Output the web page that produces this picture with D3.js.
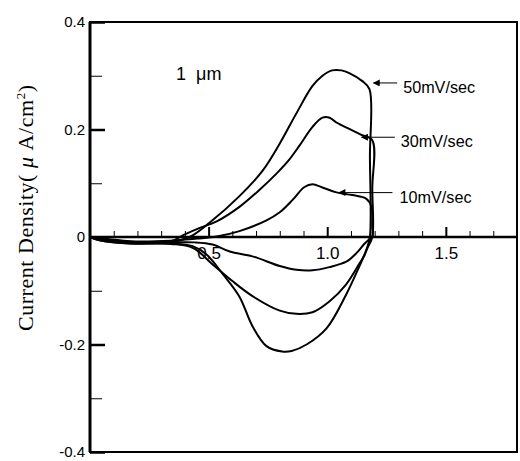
<!DOCTYPE html>
<html>
<head>
<meta charset="utf-8">
<script src="https://cdn.jsdelivr.net/npm/d3@7"></script>
<style>
  body { margin: 0; background: #fff; }
  svg { display: block; }
</style>
</head>
<body>
<svg width="520" height="461"></svg>
<script>
// scan rates and their cyclic voltammograms (potential V, current density uA/cm2)
var rates = ["50mV/sec", "30mV/sec", "10mV/sec"];

var v50 = [0, 0.08, 0.17, 0.34, 0.42, 0.505, 0.63, 0.727, 0.80, 0.87, 0.938, 0.98, 1.02, 1.06, 1.093, 1.148, 1.178, 1.18, 1.18,
	1.168, 1.15, 1.135, 1.08, 0.997, 0.913, 0.85, 0.81, 0.744, 0.685, 0.63, 0.56, 0.49, 0.433, 0.34, 0.17, 0.04, 0];
var i50 = [0, -0.006, -0.01, -0.009, 0, 0.027, 0.076, 0.123, 0.174, 0.23, 0.281, 0.3, 0.31, 0.31, 0.305, 0.29, 0.275, 0.15, 0.0,
	-0.02, -0.04, -0.055, -0.107, -0.17, -0.2, -0.212, -0.213, -0.203, -0.166, -0.111, -0.069, -0.032, -0.017, -0.012, -0.012, -0.006, 0];

var v30 = [0, 0.08, 0.17, 0.34, 0.4, 0.463, 0.534, 0.63, 0.715, 0.786, 0.84, 0.883, 0.938, 0.98, 1.01, 1.039, 1.093, 1.144, 1.19, 1.19, 1.19,
	1.17, 1.156, 1.135, 1.08, 1.009, 0.938, 0.87, 0.80, 0.685, 0.6, 0.517, 0.433, 0.34, 0.17, 0.04, 0];
var i30 = [0, -0.005, -0.009, -0.008, 0.005, 0.017, 0.029, 0.056, 0.088, 0.118, 0.144, 0.17, 0.205, 0.222, 0.222, 0.213, 0.201, 0.19, 0.18, 0.09, 0.0,
	-0.02, -0.035, -0.05, -0.088, -0.12, -0.14, -0.143, -0.137, -0.11, -0.082, -0.051, -0.02, -0.013, -0.012, -0.006, 0];

var v10 = [0, 0.08, 0.17, 0.34, 0.45, 0.534, 0.63, 0.744, 0.8, 0.854, 0.904, 0.938, 0.98, 1.039, 1.106, 1.165, 1.186, 1.19, 1.19,
	1.175, 1.156, 1.123, 1.08, 1.009, 0.938, 0.87, 0.8, 0.685, 0.589, 0.517, 0.44, 0.34, 0.17, 0.04, 0];
var i10 = [0, -0.004, -0.008, -0.007, -0.003, 0.001, 0.011, 0.031, 0.046, 0.069, 0.093, 0.098, 0.092, 0.083, 0.078, 0.071, 0.057, 0.02, 0.0,
	-0.005, -0.013, -0.03, -0.046, -0.056, -0.062, -0.061, -0.054, -0.036, -0.027, -0.014, -0.01, -0.01, -0.01, -0.005, 0];

var xMajor = [0.5, 1.0, 1.5];
var xMinor = [0.1, 0.2, 0.3, 0.4, 0.6, 0.7, 0.8, 0.9, 1.1, 1.2, 1.3, 1.4, 1.6, 1.7];
var yMajor = [-0.4, -0.2, 0, 0.2, 0.4];
var yMinor = [-0.3, -0.1, 0.1, 0.3];

// arrow label positions in data units: [text x, text baseline y, arrow start x, arrow tip x]
var labelAt = [[1.32, 0.268, 1.295, 1.195], [1.31, 0.167, 1.285, 1.145], [1.305, 0.064, 1.275, 1.05]];

var svg = d3.select("svg");
var mLeft = 90, mRight = 517, mTop = 22, mBottom = 452;

var x = d3.scaleLinear().domain([0, 1.8]).range([mLeft, mRight]);
var y = d3.scaleLinear().domain([-0.4, 0.4]).range([mBottom, mTop]);

var font = "'Liberation Sans', Arial, sans-serif";

// frame
svg.append("rect")
	.attr("x", mLeft).attr("y", mTop)
	.attr("width", mRight - mLeft).attr("height", mBottom - mTop)
	.attr("fill", "none")
	.attr("stroke", "#000")
	.attr("stroke-width", 2);

svg.append("line")
	.attr("x1", mLeft).attr("x2", mLeft)
	.attr("y1", mTop).attr("y2", mBottom)
	.attr("stroke", "#000").attr("stroke-width", 3);

// y axis, ticks pointing inward
var yAxis = svg.append("g")
	.attr("transform", "translate(" + mLeft + ",0)")
	.call(d3.axisLeft(y).tickValues(yMajor).tickSizeInner(-15).tickSizeOuter(0).tickPadding(5)
		.tickFormat(function(d) { return d === 0 ? "0" : d.toFixed(1); }));
yAxis.select(".domain").remove();
yAxis.selectAll("line").attr("stroke-width", 2.5);
yAxis.selectAll("text").style("font-family", font).style("font-size", "15px").attr("fill", "#000");

var yAxisMinor = svg.append("g")
	.attr("transform", "translate(" + mLeft + ",0)")
	.call(d3.axisLeft(y).tickValues(yMinor).tickSizeInner(-12).tickSizeOuter(0).tickFormat(""));
yAxisMinor.select(".domain").remove();
yAxisMinor.selectAll("line").attr("stroke-width", 1);

// zero line with x ticks
svg.append("line")
	.attr("x1", mLeft).attr("x2", mRight)
	.attr("y1", y(0)).attr("y2", y(0))
	.attr("stroke", "#000").attr("stroke-width", 2.5);

var xAxis = svg.append("g")
	.attr("transform", "translate(0," + y(0) + ")")
	.call(d3.axisBottom(x).tickValues(xMajor).tickSizeInner(-10).tickSizeOuter(0).tickPadding(10)
		.tickFormat(function(d) { return d.toFixed(1); }));
xAxis.select(".domain").remove();
xAxis.selectAll("line").attr("stroke-width", 2);
xAxis.selectAll("text").style("font-family", font).style("font-size", "17px").attr("fill", "#000");

var xAxisMinor = svg.append("g")
	.attr("transform", "translate(0," + y(0) + ")")
	.call(d3.axisBottom(x).tickValues(xMinor).tickSizeInner(-6).tickSizeOuter(0).tickFormat(""));
xAxisMinor.select(".domain").remove();
xAxisMinor.selectAll("line").attr("stroke-width", 1);

// curves
var line = d3.line()
	.x(function(d) { return x(d[0]); })
	.y(function(d) { return y(d[1]); })
	.curve(d3.curveCatmullRom.alpha(0.5));

var series = [d3.zip(v50, i50), d3.zip(v30, i30), d3.zip(v10, i10)];

svg.selectAll("path.cv")
	.data(series)
	.enter()
	.append("path")
	.attr("class", "cv")
	.attr("d", line)
	.attr("fill", "none")
	.attr("stroke", "#000")
	.attr("stroke-width", 2)
	.attr("stroke-linejoin", "round");

// arrows and rate labels
svg.append("defs").append("marker")
	.attr("id", "head")
	.attr("viewBox", "0 0 10 10")
	.attr("refX", 1).attr("refY", 5)
	.attr("markerWidth", 9).attr("markerHeight", 7)
	.attr("markerUnits", "userSpaceOnUse")
	.attr("orient", "auto")
	.append("path")
	.attr("d", "M0,5L10,0L10,10Z")
	.attr("fill", "#000");

rates.forEach(function(r, k) {
	var p = labelAt[k];
	svg.append("line")
		.attr("x1", x(p[3])).attr("x2", x(p[2]))
		.attr("y1", y(p[1]) - 10).attr("y2", y(p[1]) - 10)
		.attr("stroke", "#000").attr("stroke-width", 1)
		.attr("marker-start", "url(#head)");
	svg.append("text")
		.attr("x", x(p[0])).attr("y", y(p[1]))
		.attr("textLength", 72).attr("lengthAdjust", "spacingAndGlyphs")
		.style("font-family", font).style("font-size", "17px")
		.text(r);
});

// thickness label
svg.append("text")
	.attr("x", 176).attr("y", 80)
	.style("font-family", font).style("font-size", "18px")
	.attr("xml:space", "preserve")
	.text("1  \u03bcm");

// y axis title
var yt = svg.append("text")
	.attr("transform", "translate(33,208) rotate(-90)")
	.attr("text-anchor", "middle")
	.attr("textLength", 246).attr("lengthAdjust", "spacing")
	.style("font-family", "'Liberation Serif', 'Times New Roman', serif")
	.style("font-size", "22px");
yt.append("tspan").text("Current  Density( ");
yt.append("tspan").style("font-style", "italic").text("\u03bc");
yt.append("tspan").text(" A/cm");
yt.append("tspan").attr("dy", -8).style("font-size", "13px").text("2");
yt.append("tspan").attr("dy", 8).text(")");
</script>
</body>
</html>
